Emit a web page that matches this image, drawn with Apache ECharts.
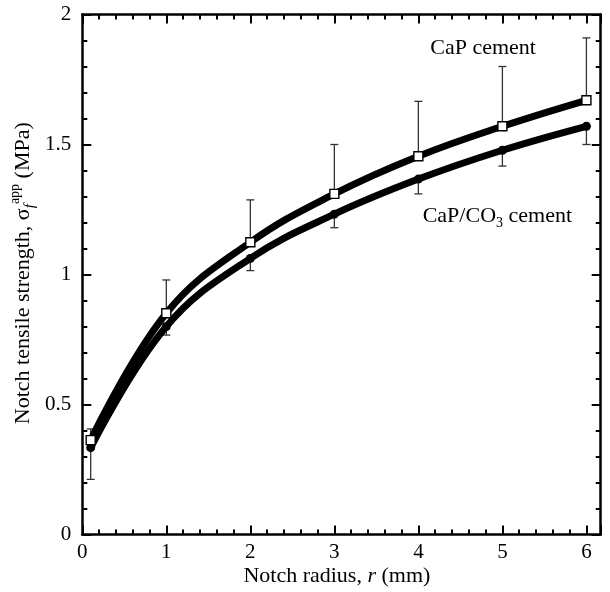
<!DOCTYPE html>
<html>
<head>
<meta charset="utf-8">
<script src="https://cdn.jsdelivr.net/npm/echarts@6/dist/echarts.min.js"></script>
<style>html,body{margin:0;padding:0;background:#fff;}#c{width:610px;height:592px;}</style>
</head>
<body>
<div id="c"></div>
<script>
// ---- data ----
const radius = [0.1, 1, 2, 3, 4, 5, 6];
const capMean = [0.363, 0.851, 1.124, 1.31, 1.455, 1.57, 1.67];
const capUpper = [0.406, 0.979, 1.287, 1.50, 1.666, 1.80, 1.91];
const co3Mean = [0.334, 0.80, 1.062, 1.232, 1.367, 1.478, 1.57];
const co3Lower = [0.212, 0.767, 1.015, 1.18, 1.31, 1.417, 1.50];
const xTicks = [0, 1, 2, 3, 4, 5, 6];
const yTicks = [0, 0.5, 1, 1.5, 2];
const labelCaP = 'CaP cement';
const labelCO3 = 'CaP/CO3 cement';

const FONT = 'Liberation Serif';
const XMAX = 6.17;

function isTick(list, v) {
  return list.some(t => Math.abs(t - v) < 1e-6);
}
function fmtY(v) {
  const t = yTicks.find(t => Math.abs(t - v) < 1e-6);
  return t === undefined ? '' : String(t);
}

function xAxisDef(pos, major, labels) {
  return {
    type: 'value', position: pos, min: 0, max: XMAX,
    interval: major ? 1 : 0.2,
    axisLine: { show: major, onZero: false, lineStyle: { color: '#000', width: 2.5 } },
    axisTick: { show: true, inside: true, length: major ? 9 : 5, lineStyle: { color: '#000', width: 2 } },
    axisLabel: labels ? {
      show: true, margin: 7, color: '#000', fontSize: 21, fontFamily: FONT,
      formatter: v => isTick(xTicks, v) ? String(Math.round(v)) : ''
    } : { show: false },
    splitLine: { show: false }
  };
}
function yAxisDef(pos, major, labels) {
  return {
    type: 'value', position: pos, min: 0, max: 2,
    interval: major ? 0.5 : 0.1,
    axisLine: { show: major, onZero: false, lineStyle: { color: '#000', width: 2.5 } },
    axisTick: { show: true, inside: true, length: major ? 9 : 5, lineStyle: { color: '#000', width: 2 } },
    axisLabel: labels ? {
      show: true, margin: 11, color: '#000', fontSize: 21, fontFamily: FONT,
      formatter: fmtY
    } : { show: false },
    splitLine: { show: false }
  };
}

const capLine = radius.map((x, i) => [x, capMean[i]]);
const co3Line = radius.map((x, i) => [x, co3Mean[i]]);
const capErr = radius.map((x, i) => [x, capMean[i], capUpper[i]]);
const co3Err = radius.map((x, i) => [x, co3Mean[i], co3Lower[i]]);

function errRender(params, api) {
  const x = api.value(0), m = api.value(1), b = api.value(2);
  const p0 = api.coord([x, m]);
  const p1 = api.coord([x, b]);
  const w = 4;
  const st = { stroke: '#333', lineWidth: 1.3 };
  return {
    type: 'group',
    children: [
      { type: 'line', shape: { x1: p0[0], y1: p0[1], x2: p1[0], y2: p1[1] }, style: st },
      { type: 'line', shape: { x1: p1[0] - w, y1: p1[1], x2: p1[0] + w, y2: p1[1] }, style: st }
    ]
  };
}

const chart = echarts.init(document.getElementById('c'), null, { renderer: 'canvas' });
chart.setOption({
  animation: false,
  backgroundColor: '#fff',
  grid: { left: 82.3, right: 9.3, top: 14.5, bottom: 57.5, containLabel: false, outerBoundsMode: 'none' },
  xAxis: [
    xAxisDef('bottom', true, true),
    xAxisDef('bottom', false, false),
    xAxisDef('top', true, false),
    xAxisDef('top', false, false)
  ],
  yAxis: [
    yAxisDef('left', true, true),
    yAxisDef('left', false, false),
    yAxisDef('right', true, false),
    yAxisDef('right', false, false)
  ],
  series: [
    { type: 'custom', name: 'capErr', data: capErr, renderItem: errRender, z: 1, silent: true },
    { type: 'custom', name: 'co3Err', data: co3Err, renderItem: errRender, z: 1, silent: true },
    { type: 'line', name: 'CaP/CO3 fit', data: co3Line, smooth: 0.4, showSymbol: false,
      lineStyle: { color: '#000', width: 7 }, z: 2, silent: true },
    { type: 'line', name: 'CaP fit', data: capLine, smooth: 0.4, showSymbol: false,
      lineStyle: { color: '#000', width: 7 }, z: 2, silent: true },
    { type: 'scatter', name: 'CaP/CO3', data: co3Line, symbol: 'circle', symbolSize: 9,
      itemStyle: { color: '#000', opacity: 1 }, z: 3, silent: true },
    { type: 'scatter', name: 'CaP', data: capLine, symbol: 'rect', symbolSize: 9,
      itemStyle: { color: '#fff', borderColor: '#000', borderWidth: 1.4, opacity: 1 }, z: 4, silent: true }
  ]
});

const pCaP = chart.convertToPixel({ xAxisIndex: 0, yAxisIndex: 0 }, [4.77, 1.87]);
const pCO3 = chart.convertToPixel({ xAxisIndex: 0, yAxisIndex: 0 }, [4.94, 1.225]);
const yMid = chart.convertToPixel({ yAxisIndex: 0 }, 1.005);
const xMid = chart.convertToPixel({ xAxisIndex: 0 }, 3.03);

const co3Parts = labelCO3.split('3');
chart.setOption({
  graphic: [
    { type: 'text', x: pCaP[0], y: pCaP[1], silent: true,
      style: { text: labelCaP, font: '22px "' + FONT + '"', fill: '#000', align: 'center', verticalAlign: 'middle' } },
    { type: 'text', x: pCO3[0], y: pCO3[1], silent: true,
      style: { text: '{a|' + co3Parts[0] + '}{s|3}{a|' + co3Parts[1] + '}', align: 'center', verticalAlign: 'middle',
        rich: {
          a: { fontSize: 22, fontFamily: FONT, color: '#000', lineHeight: 28 },
          s: { fontSize: 14, fontFamily: FONT, color: '#000', verticalAlign: 'bottom' }
        } } },
    { type: 'text', x: xMid, y: 576, silent: true,
      style: { text: '{a|Notch radius, }{i|r}{a| (mm)}', align: 'center', verticalAlign: 'middle',
        rich: {
          a: { fontSize: 22, fontFamily: FONT, color: '#000' },
          i: { fontSize: 22, fontFamily: FONT, fontStyle: 'italic', color: '#000' }
        } } },
    { type: 'text', x: 23, y: yMid, rotation: Math.PI / 2, silent: true,
      style: { text: '{a|Notch tensile strength, σ}{sub|f}{sup|app}{a| (MPa)}', align: 'center', verticalAlign: 'middle',
        rich: {
          a: { fontSize: 22, fontFamily: FONT, color: '#000', lineHeight: 30 },
          sub: { fontSize: 15, fontFamily: FONT, fontStyle: 'italic', color: '#000', verticalAlign: 'bottom' },
          sup: { fontSize: 14, fontFamily: FONT, color: '#000', verticalAlign: 'top' }
        } } }
  ]
});
</script>
</body>
</html>
